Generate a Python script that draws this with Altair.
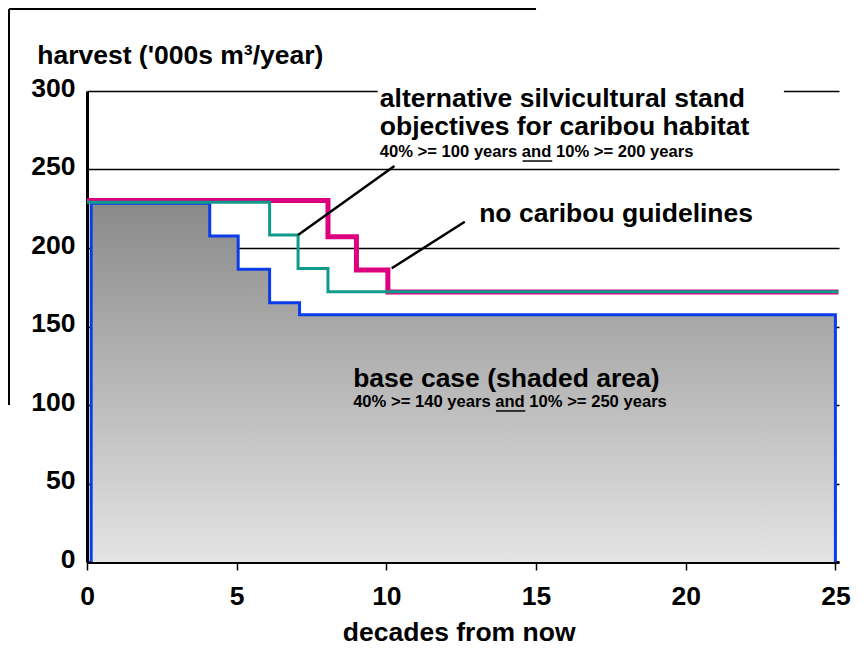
import altair as alt
import pandas as pd

# ---- data ----
# base case (blue outline, shaded area): step break points (decades) and harvest levels
base_x = [0.14, 4.1, 5.05, 6.1, 7.1, 25.0]
base_y = [228.5, 207.6, 186.4, 165.2, 157.5, 157.5]
# alternative silvicultural stand objectives (teal)
alt_x = [0.0, 6.1, 7.05, 8.05, 25.1]
alt_y = [229.1, 208.3, 187.0, 172.2, 172.2]
# no caribou guidelines (magenta)
nog_x = [0.0, 8.05, 9.0, 10.05, 25.1]
nog_y = [230.3, 207.2, 186.0, 172.0, 172.0]

x_ticks = [0, 5, 10, 15, 20, 25]
y_ticks = [0, 50, 100, 150, 200, 250, 300]

# annotations
big_text = ["alternative silvicultural stand", "objectives for caribou habitat",
            "no caribou guidelines", "base case (shaded area)"]
big_x = [9.78, 9.78, 13.10, 8.89]
big_y = [290.0, 272.0, 216.8, 111.7]
small_text = ["40% >= 100 years and 10% >= 200 years",
              "40% >= 140 years and 10% >= 250 years"]
small_x = [9.78, 8.89]
small_y = [258.2, 98.5]
underline_x = [14.55, 13.66]
underline_x2 = [15.54, 14.64]
underline_y = [255.4, 96.2]
leader_x = [7.05, 10.18]
leader_y = [208.3, 187.1]
leader_x2 = [10.27, 12.62]
leader_y2 = [252.2, 216.7]
# white label box that hides the 300 gridline behind the label
box_x, box_x2, box_y, box_y2 = [9.71], [23.28], [284.0], [306.0]
# outer picture frame (left and top edges), in axis units
frame_x = [-2.606, -2.606]
frame_x2 = [-2.606, 15.0]
frame_y = [352.2, 352.2]
frame_y2 = [100.0, 352.2]

FONT = "Liberation Sans"
BIG = 26.5
SMALL = 16.6

area_df = pd.DataFrame({"x": base_x, "y": base_y})
blue_df = pd.DataFrame({"x": [base_x[0]] + base_x + [base_x[-1]],
                        "y": [0] + base_y + [0]})
blue_df["i"] = range(len(blue_df))
alt_df = pd.DataFrame({"x": alt_x, "y": alt_y})
nog_df = pd.DataFrame({"x": nog_x, "y": nog_y})
big_df = pd.DataFrame({"t": big_text, "x": big_x, "y": big_y})
small_df = pd.DataFrame({"t": small_text, "x": small_x, "y": small_y})
ul_df = pd.DataFrame({"x": underline_x, "x2": underline_x2, "y": underline_y})
ld_df = pd.DataFrame({"x": leader_x, "y": leader_y, "x2": leader_x2, "y2": leader_y2})
box_df = pd.DataFrame({"x": box_x, "x2": box_x2, "y": box_y, "y2": box_y2})
frame_df = pd.DataFrame({"x": frame_x, "x2": frame_x2, "y": frame_y, "y2": frame_y2})

xscale = alt.Scale(domain=[0, 25.12], nice=False, zero=False)
yscale = alt.Scale(domain=[0, 300], nice=False)

xaxis = alt.Axis(values=x_ticks, grid=False, domainColor="black", domainWidth=3,
                 tickColor="black", tickWidth=1.5, tickSize=8,
                 labelFont=FONT, labelFontSize=BIG, labelFontWeight="bold",
                 labelColor="black", labelPadding=13, labelFlush=False,
                 titleFont=FONT, titleFontSize=BIG, titleFontWeight="bold",
                 titleColor="black", titleY=78.7, titleX=371.7,
                 titleAlign="center", titleBaseline="alphabetic")
yaxis = alt.Axis(values=y_ticks, grid=True, gridColor="black", gridWidth=1.5,
                 gridOpacity=1, domainColor="black", domainWidth=3,
                 ticks=False, tickSize=0,
                 labelFont=FONT, labelFontSize=BIG, labelFontWeight="bold",
                 labelColor="black", labelPadding=12, labelOffset=-3,
                 labelFlush=False,
                 titleFont=FONT, titleFontSize=BIG, titleFontWeight="bold",
                 titleColor="black", titleAngle=0, titleX=-50.3, titleY=-28,
                 titleAlign="left", titleBaseline="alphabetic")

gradient = alt.Gradient(gradient="linear",
                        stops=[alt.GradientStop(color="#8a8a8a", offset=0),
                               alt.GradientStop(color="#e4e4e4", offset=1)],
                        x1=1, x2=1, y1=0, y2=1)

area = alt.Chart(area_df).mark_area(interpolate="step-after", color=gradient).encode(
    x=alt.X("x:Q", scale=xscale, axis=xaxis, title="decades from now"),
    y=alt.Y("y:Q", scale=yscale, axis=yaxis, title="harvest ('000s m³/year)"),
)

box = alt.Chart(box_df).mark_rect(color="white").encode(
    x=alt.X("x:Q", scale=xscale), x2="x2:Q",
    y=alt.Y("y:Q", scale=yscale), y2="y2:Q")

blue = alt.Chart(blue_df).mark_line(interpolate="step-after", color="#0a3de8",
                                    strokeWidth=3).encode(
    x=alt.X("x:Q", scale=xscale), y=alt.Y("y:Q", scale=yscale), order="i:Q")

pink = alt.Chart(nog_df).mark_line(interpolate="step-after", color="#dc007f",
                                   strokeWidth=5).encode(
    x=alt.X("x:Q", scale=xscale), y=alt.Y("y:Q", scale=yscale))

teal = alt.Chart(alt_df).mark_line(interpolate="step-after", color="#109a8a",
                                   strokeWidth=3).encode(
    x=alt.X("x:Q", scale=xscale), y=alt.Y("y:Q", scale=yscale))

leaders = alt.Chart(ld_df).mark_rule(color="black", strokeWidth=2.5).encode(
    x=alt.X("x:Q", scale=xscale), y=alt.Y("y:Q", scale=yscale),
    x2="x2:Q", y2="y2:Q")

underlines = alt.Chart(ul_df).mark_rule(color="black", strokeWidth=1.5).encode(
    x=alt.X("x:Q", scale=xscale), x2="x2:Q", y=alt.Y("y:Q", scale=yscale))

frame = alt.Chart(frame_df).mark_rule(color="black", strokeWidth=2).encode(
    x=alt.X("x:Q", scale=xscale), y=alt.Y("y:Q", scale=yscale),
    x2="x2:Q", y2="y2:Q")

big = alt.Chart(big_df).mark_text(align="left", baseline="alphabetic", font=FONT,
                                  fontSize=BIG, fontWeight="bold", color="black").encode(
    x=alt.X("x:Q", scale=xscale), y=alt.Y("y:Q", scale=yscale), text="t:N")

small = alt.Chart(small_df).mark_text(align="left", baseline="alphabetic", font=FONT,
                                      fontSize=SMALL, fontWeight="bold", color="black").encode(
    x=alt.X("x:Q", scale=xscale), y=alt.Y("y:Q", scale=yscale), text="t:N")

chart = alt.layer(area, box, blue, pink, teal, leaders, underlines, frame,
                  big, small).properties(
    width=752, height=471,
    autosize=alt.AutoSizeParams(type="none"),
    padding={"left": 79, "top": 83, "right": 18, "bottom": 101},
    background="white",
).configure_view(strokeWidth=0)

chart.save("out.html", embed_options={"renderer": "svg", "actions": False})
